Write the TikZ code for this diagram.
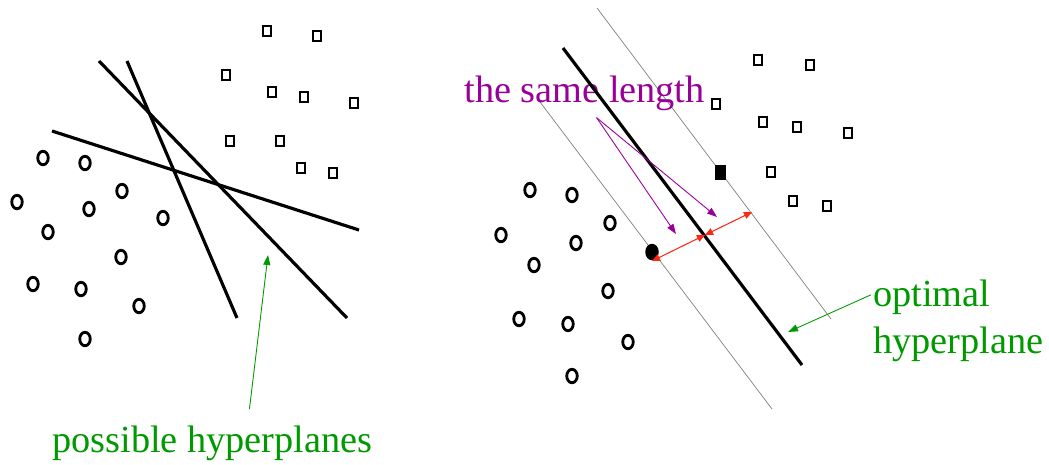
\documentclass[tikz,border=0pt]{standalone}
\usepackage{fontspec}
\setmainfont{Liberation Serif}
\usetikzlibrary{arrows.meta, positioning, calc, shapes.geometric}
\definecolor{hypgreen}{RGB}{0,153,0}
\definecolor{lenpurple}{RGB}{153,0,153}
\definecolor{marginred}{RGB}{250,40,20}

\begin{document}
\begin{tikzpicture}[x=0.02cm, y=-0.02cm,
    ring/.style={draw, ellipse, line width=1.6pt, minimum width=0.21cm, minimum height=0.27cm, inner sep=0pt},
    sqbox/.style={draw, rectangle, line width=1.4pt, minimum width=0.16cm, minimum height=0.2cm, inner sep=0pt},
    plane/.style={line width=1.8pt},
    margin/.style={gray, line width=0.4pt},
    txt/.style={font=\fontsize{21.8}{26}\selectfont, inner sep=0pt, anchor=base west},
    pointer/.style={-{Triangle[length=0.2cm, width=0.14cm]}, line width=0.5pt},
]
    \useasboundingbox (0,0) rectangle (1049,464);

    % Links: mogelijke hypervlakken
    \coordinate (hA1) at (52,131);  \coordinate (hA2) at (359,230);
    \coordinate (hB1) at (99,61);   \coordinate (hB2) at (347,318);
    \coordinate (hC1) at (127,61);  \coordinate (hC2) at (237,318);
    \draw[plane] (hA1) -- (hA2);
    \draw[plane] (hB1) -- (hB2);
    \draw[plane] (hC1) -- (hC2);
    \foreach \x/\y [count=\i] in {43/158, 85/163, 122/191, 17/202, 89/209, 163/218,
        48/232, 121/257, 33/284, 81/289, 139/306, 85/339}
        \node[ring] (lc\i) at (\x,\y) {};
    \foreach \x/\y [count=\i] in {267/31, 317/36, 226/75, 272/92, 304/97, 354/103,
        230/141, 280/141, 301/168, 333/173}
        \node[sqbox] (ls\i) at (\x,\y) {};
    \node[txt, hypgreen] (poss) at (52,452) {possible hyperplanes};
    \coordinate (possTip) at (268,255);
    \draw[pointer, hypgreen] ($(poss.north)+(37,-16)$) -- (possTip);

    % Rechts: optimaal hypervlak
    \coordinate (mUp1) at (597,8);    \coordinate (mUp2) at (831,319);
    \coordinate (mLo1) at (540,102);  \coordinate (mLo2) at (772,409);
    \coordinate (hO1) at (563,48);    \coordinate (hO2) at (802,365);
    \draw[margin] (mUp1) -- (mUp2);
    \draw[margin] (mLo1) -- (mLo2);
    \node[txt, lenpurple] (same) at (464,102) {the same length};
    \draw[plane] (hO1) -- (hO2);
    \foreach \x/\y [count=\i] in {530/190, 572/195, 610/223, 501/235, 576/243, 534/265,
        608/291, 519/319, 568/324, 628/342, 572/376}
        \node[ring] (rc\i) at (\x,\y) {};
    \foreach \x/\y [count=\i] in {758/60, 810/65, 716/104, 763/122, 797/127, 848/133,
        771/172, 793/201, 827/206}
        \node[sqbox] (rs\i) at (\x,\y) {};
    \node[ellipse, fill=black, inner sep=0pt, minimum width=0.27cm, minimum height=0.33cm] (svC) at (652,252) {};
    \node[rectangle, fill=black, inner sep=0pt, minimum width=0.22cm, minimum height=0.3cm] (svS) at (720,172) {};

    % Marge
    \coordinate (rLo) at (652,261);
    \coordinate (rMid) at (705,235);
    \coordinate (rUp) at (752,212);
    \draw[{Triangle[length=0.16cm, width=0.14cm]}-{Triangle[length=0.16cm, width=0.14cm]}, marginred, line width=0.6pt] (rLo) -- (rMid);
    \draw[{Triangle[length=0.16cm, width=0.14cm]}-{Triangle[length=0.16cm, width=0.14cm]}, marginred, line width=0.6pt] (rMid) -- (rUp);
    \coordinate (sameTail) at ($(same.south)+(12,7)$);
    \coordinate (sameTipA) at (676,234);
    \coordinate (sameTipB) at (717,217);
    \draw[pointer, lenpurple] (sameTail) -- (sameTipA);
    \draw[pointer, lenpurple] (sameTail) -- (sameTipB);

    \node[txt, hypgreen] (optA) at (873,306) {optimal};
    \node[txt, hypgreen] (optB) at ($(optA.base west)+(0,47)$) {hyperplane};
    \coordinate (optTip) at (788,332);
    \draw[pointer, hypgreen] ($(optA.west)+(-2,-2)$) -- (optTip);
\end{tikzpicture}
\end{document}
